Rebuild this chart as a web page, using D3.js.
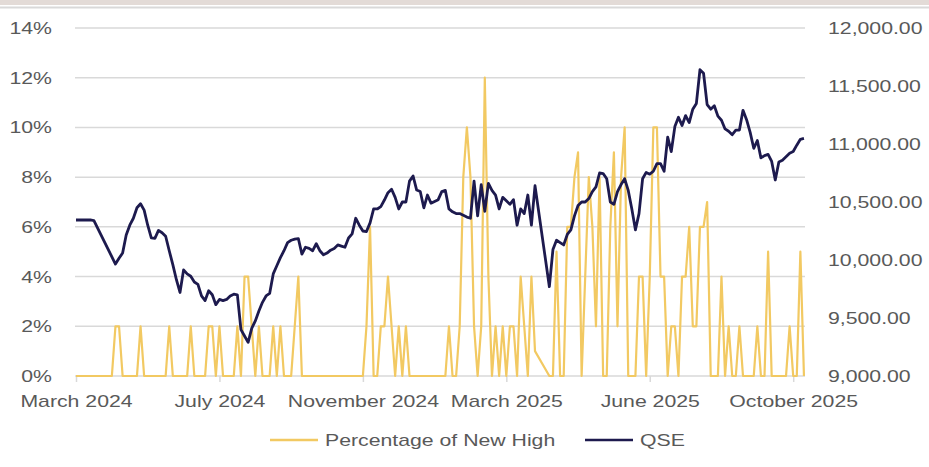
<!DOCTYPE html>
<html lang="en">
<head>
<meta charset="UTF-8">
<title>New highs vs QSE</title>
<style>
    body { margin: 0; background: #fff; }
    svg { display: block; }
    text { font-family: "Liberation Sans", Arial, sans-serif; fill: #595959; }
</style>
</head>
<body>
<div id="chart"></div>
<script src="https://cdn.jsdelivr.net/npm/d3@7"></script>
<script>
// x axis is a category axis: one slot per observation, a label every 40 slots
const tickLabels = ["March 2024", "July 2024", "November 2024", "March 2025", "June 2025", "October 2025"];
const tickIndex  = [0, 40, 80, 120, 160, 200];
const leftTicks  = [0, 2, 4, 6, 8, 10, 12, 14];
const rightTicks = [9000, 9500, 10000, 10500, 11000, 11500, 12000];

// QSE index level (null = no observation, line is bridged across)
const qse = [
    10345,10345,10345,10345,10345,10340,null,null,null,null,
    null,9965,10015,10060,10215,10300,10360,10450,10485,10430,
    10300,10190,10187,10255,10235,10205,10080,9960,9830,9720,
    9915,9880,9860,9810,9790,9690,9650,9735,9700,9615,
    9660,9650,9660,9690,9705,9700,9400,9345,9290,9410,
    9475,9560,9635,9690,9712,9880,9950,10020,10080,10150,
    10170,10180,10185,10050,10110,10100,10080,10140,10080,10045,
    10060,10085,10100,10130,10120,10110,10190,10225,10360,10300,
    10250,10245,10320,10440,10440,10460,10517,10580,10610,10540,
    10440,10500,10500,10680,10724,10603,10590,10450,10560,10490,
    10505,10520,10590,10600,10440,10415,10400,10400,10385,10370,
    10360,10680,10380,10650,10420,10660,10600,10560,10440,10540,
    10510,10480,10520,10300,10440,10400,10560,10300,10640,null,
    null,null,9770,10090,10170,10150,10130,10220,10260,10380,
    10470,10500,10500,10530,10590,10630,10750,10745,10700,10500,
    10480,10590,10650,10700,10600,10440,10260,10400,10700,10755,
    10740,10765,10830,10830,10765,11060,10934,11150,11230,11160,
    11245,11185,11300,11350,11640,11610,11340,11300,11330,11240,
    11205,11130,11110,11080,11120,11120,11290,11210,11100,10963,
    11030,10880,10900,10910,10850,10690,10845,10860,10890,10920,
    10935,10990,11040,11048
];

// Percentage of stocks making a new high (%)
const newHigh = [
    0,0,0,0,0,0,0,0,0,0,
    0,2,2,0,0,0,0,0,2,0,
    0,0,0,0,0,0,2,0,0,0,
    0,0,2,0,0,0,0,2,2,0,
    2,0,0,0,0,2,0,4,4,2,
    0,2,0,0,0,2,0,2,0,0,
    0,2,4,0,0,0,0,0,0,0,
    0,0,0,0,0,0,0,0,0,0,
    0,2,6,0,0,2,2,4,2,0,
    2,0,2,0,0,0,0,0,0,0,
    0,0,0,0,2,0,0,2,8,10,
    8,2,0,2,12,4,0,2,0,2,
    0,2,2,0,4,2,0,4,1,null,
    null,null,0,0,5,0,0,6,6,8,
    9,0,4,8,6,2,8,0,0,6,
    9,2,8,10,0,0,0,4,4,0,
    4,10,10,4,4,0,2,2,0,4,
    4,6,2,2,6,6,7,0,0,0,
    4,0,2,0,0,2,0,0,0,0,
    2,0,0,5,0,0,0,0,0,2,
    0,0,5,0
];

const W = 929, H = 467;
const plotLeft = 75, plotRight = 805, plotTop = 28, plotBottom = 376;
const sx = 1.25; // labels are drawn a little wide

const svg = d3.select("#chart").append("svg").attr("width", W).attr("height", H);

// thin header band at the very top
svg.append("rect").attr("x", 0).attr("y", 0).attr("width", W).attr("height", 5).attr("fill", "#e3dbd7");
svg.append("line").attr("x1", 0).attr("x2", W).attr("y1", 7.5).attr("y2", 7.5)
    .attr("stroke", "#d9d9d9").attr("stroke-width", 2);

const x  = d3.scaleLinear().domain([0, 200]).range([76, 793.2]);
const yL = d3.scaleLinear().domain([0, 14]).range([plotBottom, plotTop]);
const yR = d3.scaleLinear().domain([9000, 12000]).range([plotBottom, plotTop]);

// gridlines
svg.append("g").selectAll("line").data(leftTicks).join("line")
    .attr("x1", plotLeft).attr("x2", plotRight)
    .attr("y1", d => yL(d)).attr("y2", d => yL(d))
    .attr("stroke", "#d9d9d9").attr("stroke-width", 1.5);

// left axis
const gl = svg.append("g").attr("transform", `translate(52,0)`)
    .call(d3.axisLeft(yL).tickValues(leftTicks).tickSize(0).tickPadding(0).tickFormat(d => d + "%"));
gl.select(".domain").remove();
gl.selectAll("text").attr("font-size", 17).attr("font-family", null).attr("transform", `scale(${sx},1)`);

// right axis
const gr = svg.append("g").attr("transform", `translate(828,0)`)
    .call(d3.axisRight(yR).tickValues(rightTicks).tickSize(0).tickPadding(0).tickFormat(d3.format(",.2f")));
gr.select(".domain").remove();
gr.selectAll("text").attr("font-size", 17).attr("font-family", null).attr("transform", `scale(${sx},1)`);

// bottom axis
const gb = svg.append("g").attr("transform", `translate(0,${plotBottom})`)
    .call(d3.axisBottom(x).tickValues(tickIndex).tickSize(6).tickPadding(13).tickFormat((d, i) => tickLabels[i]));
gb.select(".domain").remove();
gb.selectAll(".tick line").attr("stroke", "#d9d9d9").attr("stroke-width", 1.5);
gb.selectAll("text").attr("font-size", 17).attr("font-family", null).attr("transform", `scale(${sx},1)`);

// series
const pts = arr => arr.map((v, i) => ({i, v})).filter(d => d.v != null);

svg.append("path").datum(pts(newHigh))
    .attr("fill", "none").attr("stroke", "#f2c962").attr("stroke-width", 2.2).attr("stroke-linejoin", "round")
    .attr("d", d3.line().x(d => x(d.i)).y(d => yL(d.v)));

svg.append("path").datum(pts(qse))
    .attr("fill", "none").attr("stroke", "#1d1a4e").attr("stroke-width", 2.8).attr("stroke-linejoin", "round")
    .attr("d", d3.line().x(d => x(d.i)).y(d => yR(d.v)));

// legend
const legend = [
    {name: "Percentage of New High", color: "#f2c962", x: 270},
    {name: "QSE", color: "#1d1a4e", x: 585}
];
const lg = svg.append("g").selectAll("g").data(legend).join("g")
    .attr("transform", d => `translate(${d.x},440)`);
lg.append("line").attr("x1", 0).attr("x2", 48).attr("stroke", d => d.color).attr("stroke-width", 2.5);
lg.append("text").attr("x", 0).attr("y", 0).attr("dy", "0.35em").attr("font-size", 17)
    .attr("transform", `translate(55,0) scale(${sx},1)`).text(d => d.name);
</script>
</body>
</html>
